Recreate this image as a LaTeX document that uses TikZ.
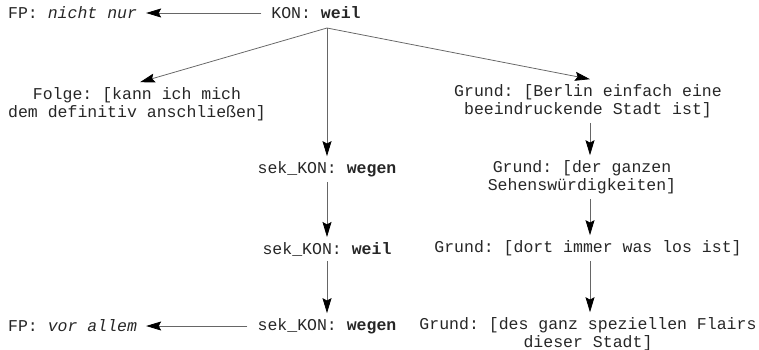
\documentclass[tikz,border=0pt]{standalone}
\usepackage{fontspec}
\setmainfont{Liberation Mono}
\usetikzlibrary{arrows.meta}
\begin{document}
\frenchspacing
\begin{tikzpicture}
\tikzstyle{item}=[inner xsep=0.5cm, inner ysep=0.25cm, align=center, text=black!85, font=\fontsize{23.5}{25.5}\selectfont]
\tikzstyle{line}=[draw, black!60, line width=1.1pt, -{Stealth[length=0.75cm, width=0.45cm, inset=0.12cm, black]}]
\useasboundingbox (0,0) rectangle (37.95,-17.45);

% Root and focus particles
\node[item] (kon) at (15.8,-0.65) {KON: \textbf{weil}};
\node[item, anchor=west, inner xsep=0cm] (fpnur) at (0.4,-0.65) {FP: \textit{nicht nur}};
\coordinate (split) at (16.35,-1.4);

% Left branch
\node[item] (folge) at (6.85,-5.2) {Folge: [kann ich mich\\dem definitiv anschließen]};

% Middle column
\node[item] (sekwegen) at (16.35,-8.45) {sek\_KON: \textbf{wegen}};
\node[item] (sekweil) at (16.35,-12.45) {sek\_KON: \textbf{weil}};
\node[item] (seklast) at (16.35,-16.3) {sek\_KON: \textbf{wegen}};
\node[item, anchor=west, inner xsep=0cm] (fpallem) at (0.4,-16.3) {FP: \textit{vor allem}};

% Right column
\node[item] (berlin) at (29.4,-5.05) {Grund: [Berlin einfach eine\\beeindruckende Stadt ist]};
\node[item] (sehens) at (29.1,-8.85) {Grund: [der ganzen\\Sehenswürdigkeiten]};
\node[item] (dort) at (29.4,-12.4) {Grund: [dort immer was los ist]};
\node[item] (flair) at (29.4,-16.7) {Grund: [des ganz speziellen Flairs\\dieser Stadt]};

% Connectors
\draw[line] (kon) -- ([xshift=0.45cm]fpnur.east);
\draw[line] (split) -- ([xshift=0.15cm]folge.north);
\draw[line] (split) -- (sekwegen);
\draw[line] (split) -- ([xshift=0.1cm]berlin.north);
\draw[line] (sekwegen) -- (sekweil);
\draw[line] (sekweil) -- (seklast);
\draw[line] (seklast) -- ([xshift=0.45cm]fpallem.east);
\draw[line] ([xshift=0.1cm]berlin.south) -- ([xshift=0.1cm]berlin.south |- sehens.north);
\draw[line] ([xshift=0.1cm]berlin.south |- sehens.south) -- ([xshift=0.1cm]berlin.south |- dort.north);
\draw[line] ([xshift=0.1cm]berlin.south |- dort.south) -- ([xshift=0.1cm]berlin.south |- flair.north);
\end{tikzpicture}
\end{document}
